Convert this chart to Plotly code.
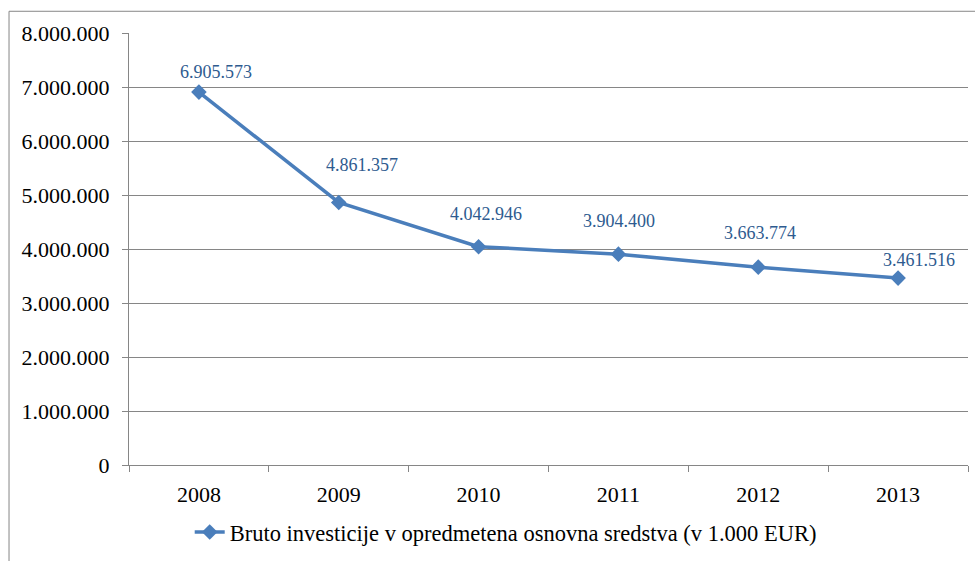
import plotly.graph_objects as go

# Gross investment in fixed assets, thousand EUR
years = ["2008", "2009", "2010", "2011", "2012", "2013"]
investments = [6905573, 4861357, 4042946, 3904400, 3663774, 3461516]
series_name = "Bruto investicije v opredmetena osnovna sredstva (v 1.000 EUR)"
y_ticks = [0, 1000000, 2000000, 3000000, 4000000, 5000000, 6000000, 7000000, 8000000]

# pixel offsets of each value label relative to its point
label_shift_x = [17, 23, 7, 1, 2, 21]
label_shift_y = [20, 37, 33, 33, 34, 18]

line_blue = "#4A7EBB"
label_blue = "#2E5B8F"
grid_grey = "#868686"
serif = "Liberation Serif, Times New Roman, serif"


def fmt(v):
    return f"{v:,}".replace(",", ".")


fig = go.Figure()
fig.add_trace(go.Scatter(
    x=years,
    y=investments,
    mode="lines+markers",
    name=series_name,
    line=dict(color=line_blue, width=3.5),
    marker=dict(symbol="diamond", size=12, color=line_blue),
))

# value labels, placed by category index
for i, (v, dx, dy) in enumerate(zip(investments, label_shift_x, label_shift_y)):
    fig.add_annotation(
        x=i, y=v, xref="x", yref="y",
        text=fmt(v), showarrow=False,
        xshift=dx, yshift=dy,
        font=dict(family=serif, size=18, color=label_blue),
    )

# outer chart frame
fig.add_shape(
    type="rect", xref="paper", yref="paper",
    x0=-0.143, x1=1.2, y0=-0.4, y1=1.0503,
    line=dict(color=grid_grey, width=1), layer="below",
)

fig.update_layout(
    width=975, height=561,
    margin=dict(l=129, r=7, t=33, b=91),
    paper_bgcolor="white", plot_bgcolor="white",
    separators=",.",
    font=dict(family=serif, size=21, color="black"),
    showlegend=True,
    legend=dict(
        orientation="h", x=0.449, xanchor="center",
        y=-0.156, yanchor="middle",
        font=dict(family=serif, size=22.5, color="black"),
        bgcolor="rgba(0,0,0,0)",
    ),
)

fig.update_xaxes(
    type="category", range=[-0.5, 5.5],
    showline=True, linecolor=grid_grey, linewidth=1,
    ticks="outside", ticklen=6, tickcolor=grid_grey, tickson="boundaries",
    showgrid=False, zeroline=False,
    tickfont=dict(family=serif, size=22, color="black"),
    ticklabelstandoff=10,
)
fig.update_yaxes(
    range=[0, 8000000], tickvals=y_ticks, tickformat=",d",
    showline=True, linecolor=grid_grey, linewidth=1,
    ticks="outside", ticklen=6, tickcolor=grid_grey,
    showgrid=True, gridcolor=grid_grey, gridwidth=1,
    zeroline=False,
    tickfont=dict(family=serif, size=22, color="black"),
    ticklabelstandoff=8,
)

fig.write_html("out.html")
